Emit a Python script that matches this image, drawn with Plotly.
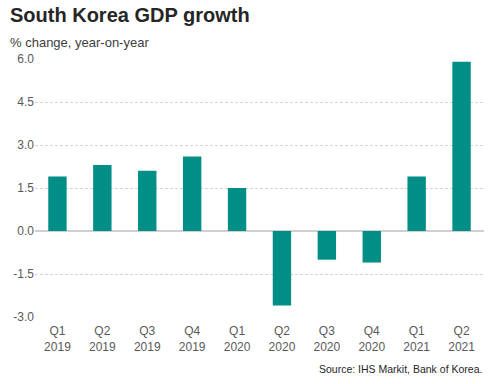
import plotly.graph_objects as go

quarters = ["Q1<br>2019", "Q2<br>2019", "Q3<br>2019", "Q4<br>2019", "Q1<br>2020",
            "Q2<br>2020", "Q3<br>2020", "Q4<br>2020", "Q1<br>2021", "Q2<br>2021"]
gdp_growth = [1.9, 2.3, 2.1, 2.6, 1.5, -2.6, -1.0, -1.1, 1.9, 5.9]
y_ticks = [-3.0, -1.5, 0.0, 1.5, 3.0, 4.5, 6.0]
y_tick_labels = ["-3.0", "-1.5", "0.0", "1.5", "3.0", "4.5", "6.0"]

FONT = "Liberation Sans, Arial, sans-serif"

fig = go.Figure(go.Bar(
    x=quarters, y=gdp_growth,
    marker=dict(color="#008E86", line=dict(width=0)),
    hoverinfo="x+y",
))

fig.update_layout(
    width=494, height=384,
    margin=dict(l=35, r=10, t=59, b=67, autoexpand=False),
    plot_bgcolor="white", paper_bgcolor="white",
    bargap=0.59,
    showlegend=False,
    font=dict(family=FONT, size=12, color="#595959"),
    xaxis=dict(
        showgrid=False, zeroline=False, showline=False, automargin=False,
        ticks="", tickfont=dict(size=12, color="#595959"),
        tickangle=0, ticklabelstandoff=5,
    ),
    yaxis=dict(
        range=[-3.0, 6.0], automargin=False,
        tickvals=y_ticks, ticktext=y_tick_labels,
        showgrid=True, gridcolor="#d4d4d4", griddash="3px,2px", gridwidth=1,
        zeroline=True, zerolinecolor="#d0d0d0", zerolinewidth=1.5,
        showline=False, ticks="", ticklabelstandoff=0,
        tickfont=dict(size=12, color="#595959"),
    ),
    annotations=[
        dict(text="<b>South Korea GDP growth</b>", xref="paper", yref="paper",
             x=0, y=1, xanchor="left", yanchor="middle", showarrow=False,
             font=dict(family=FONT, size=20, color="#262626"),
             xshift=-27, yshift=44),
        dict(text="% change, year-on-year", xref="paper", yref="paper",
             x=0, y=1, xanchor="left", yanchor="middle", showarrow=False,
             font=dict(family=FONT, size=13, color="#404040"),
             xshift=-27, yshift=17),
        dict(text="Source: IHS Markit, Bank of Korea.", xref="paper", yref="paper",
             x=1, y=0, xanchor="right", yanchor="middle", showarrow=False,
             font=dict(family=FONT, size=10.5, color="#262626"),
             xshift=0, yshift=-52),
    ],
)

# Remove the browser's default 8px body margin so the figure fills the window.
fig.write_html("out.html", config={"displayModeBar": False},
               post_script="document.body.style.margin='0px';")
